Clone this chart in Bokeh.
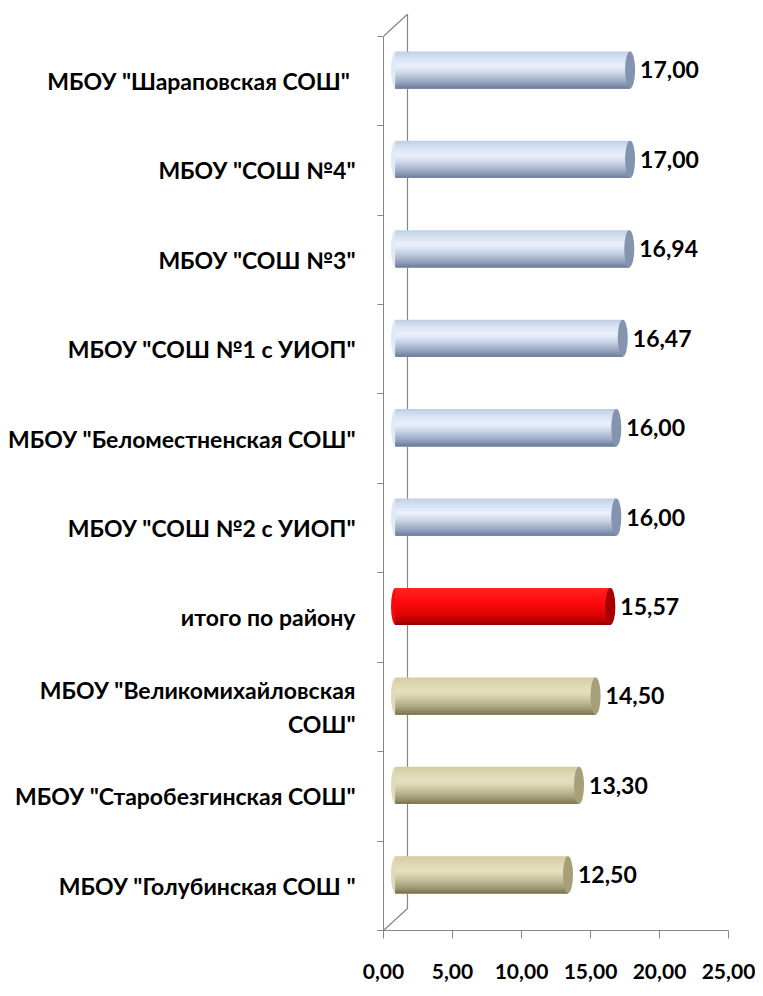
import numpy as np
from bokeh.plotting import figure
from bokeh.models import Range1d, FixedTicker
from bokeh.core.properties import value
from bokeh.embed import file_html
from bokeh.resources import INLINE

# ---------------- data (top to bottom as in the picture) ----------------
schools = [
    'МБОУ "Шараповская  СОШ"',
    'МБОУ "СОШ №4"',
    'МБОУ "СОШ №3"',
    'МБОУ "СОШ №1 с УИОП"',
    'МБОУ "Беломестненская СОШ"',
    'МБОУ "СОШ №2 с УИОП"',
    'итого по району',
    'МБОУ "Великомихайловская СОШ"',
    'МБОУ "Старобезгинская СОШ"',
    'МБОУ "Голубинская СОШ "',
]
scores = [17.00, 17.00, 16.94, 16.47, 16.00, 16.00, 15.57, 14.50, 13.30, 12.50]
score_labels = ["17,00", "17,00", "16,94", "16,47", "16,00", "16,00", "15,57", "14,50", "13,30", "12,50"]
total_name = 'итого по району'
x_ticks = [0, 5, 10, 15, 20, 25]
x_tick_labels = ["0,00", "5,00", "10,00", "15,00", "20,00", "25,00"]

# ---------------- styling ----------------
FRAME_W = 345
PX_PER_CAT = 89.4
X_MAX = 25
px_x = FRAME_W / X_MAX
DEPTH_X = 24 / px_x          # 3-D depth in x data units
DEPTH_Y = 22 / PX_PER_CAT    # 3-D depth in category units
BAR_H = 37 / PX_PER_CAT
N_STRIPES = 24
GRAY = "#868686"
FONT = "Lato"

PALETTE = {
    "blue": dict(top="#bccbe3", hi="#e8f0fb", bot="#8a9ab8", edge="#6d7c95", cap="#8493ae"),
    "red": dict(top="#ff2a2a", hi="#ff0a0a", bot="#c00000", edge="#8a0000", cap="#a80000"),
    "tan": dict(top="#d2caa0", hi="#e4dfbe", bot="#9a946e", edge="#77714f", cap="#a79f77"),
}

def hex2rgb(h):
    h = h.lstrip("#")
    return np.array([int(h[i:i + 2], 16) for i in (0, 2, 4)], dtype=float)

def rgb2hex(c):
    c = np.clip(np.round(c), 0, 255).astype(int)
    return "#%02x%02x%02x" % tuple(c)

def shade(pal, t):
    top, hi, bot, edge = (hex2rgb(pal[k]) for k in ("top", "hi", "bot", "edge"))
    if t < 0.38:
        u = t / 0.38
        return rgb2hex(top + (hi - top) * (u ** 0.7))
    if t < 0.88:
        u = ((t - 0.38) / 0.5) ** 1.3
        return rgb2hex(hi + (bot - hi) * u)
    u = (t - 0.88) / 0.12
    return rgb2hex(bot + (edge - bot) * u)

def wrap(label, limit=27):
    if len(label) <= limit:
        return label
    cut = label.rfind(" ", 0, limit)
    return label[:cut] + "\n" + label[cut + 1:]

n = len(schools)
total_score = scores[schools.index(total_name)]
kinds = []
for s, v in zip(schools, scores):
    if s == total_name:
        kinds.append("red")
    elif v > total_score:
        kinds.append("blue")
    else:
        kinds.append("tan")

# positions: index 0 at the bottom
pos = [n - 1 - i for i in range(n)]
centers = [p + 0.5 for p in pos]
bar_y = [c + DEPTH_Y / 2 for c in centers]
x0 = DEPTH_X / 2

Y_END = n + DEPTH_Y + 0.03
FRAME_H = int(round(Y_END * PX_PER_CAT))

p = figure(
    frame_width=FRAME_W, frame_height=FRAME_H,
    x_range=Range1d(0, X_MAX), y_range=Range1d(0, Y_END),
    output_backend="svg", toolbar_location=None,
    min_border_left=383, min_border_right=27, min_border_top=11, min_border_bottom=60,
)
p.outline_line_color = None
p.xgrid.grid_line_color = None
p.ygrid.grid_line_color = None
p.background_fill_color = "white"

# ---- 3-D wall lines (drawn first, behind bars) ----
p.line(x=[0, DEPTH_X, DEPTH_X, 0], y=[n, n + DEPTH_Y, DEPTH_Y, 0],
       line_color=GRAY, line_width=1.2)

# ---- cylinders: stacked stripes, each reaching down to the bar bottom ----
s_top, s_bot, s_l, s_r, s_c = [], [], [], [], []
for v, yc, k in zip(scores, bar_y, kinds):
    pal = PALETTE[k]
    for j in range(N_STRIPES):
        t = (j + 0.5) / N_STRIPES
        s_top.append(yc + BAR_H / 2 - j * BAR_H / N_STRIPES)
        s_bot.append(yc - BAR_H / 2)
        s_l.append(x0)
        s_r.append(v + x0)
        s_c.append(shade(pal, t))

# left rounded end
p.ellipse(x=[x0] * n, y=bar_y, width=9, height=BAR_H, width_units="screen",
          fill_color=[shade(PALETTE[k], 0.45) for k in kinds], line_color=None)
p.quad(top=s_top, bottom=s_bot, left=s_l, right=s_r,
       fill_color=s_c, line_color=None)
# right end cap
p.ellipse(x=[v + x0 for v in scores], y=bar_y, width=10, height=BAR_H,
          width_units="screen",
          fill_color=[PALETTE[k]["cap"] for k in kinds], line_color=None)

# ---- value labels ----
p.text(x=[v + x0 for v in scores], y=bar_y, text=score_labels, x_offset=10,
       text_align="left", text_baseline="middle", text_font=value(FONT),
       text_font_style="bold", text_font_size="23px", text_color="black")

# ---- axes ----
xa = p.xaxis[0]
xa.ticker = FixedTicker(ticks=x_ticks)
xa.major_label_overrides = {t: l for t, l in zip(x_ticks, x_tick_labels)}
xa.bounds = (0, X_MAX)
xa.axis_line_color = GRAY
xa.major_tick_line_color = GRAY
xa.major_tick_out = 8
xa.major_tick_in = 0
xa.minor_tick_line_color = None
xa.major_label_standoff = 25
xa.major_label_text_font = FONT
xa.major_label_text_font_style = "bold"
xa.major_label_text_font_size = "21px"
xa.major_label_text_color = "black"

ya = p.yaxis[0]
ya.ticker = FixedTicker(ticks=centers, minor_ticks=list(range(n + 1)))
ya.major_label_overrides = {c: wrap(s) for c, s in zip(centers, schools)}
ya.bounds = (0, n)
ya.axis_line_color = GRAY
ya.major_tick_line_color = None
ya.major_tick_out = 0
ya.major_tick_in = 0
ya.minor_tick_line_color = GRAY
ya.minor_tick_out = 6
ya.minor_tick_in = 0
ya.major_label_standoff = 22
ya.major_label_text_font = FONT
ya.major_label_text_font_style = "bold"
ya.major_label_text_font_size = "23px"
ya.major_label_text_color = "black"

open("out.html", "w").write(file_html(p, INLINE))
